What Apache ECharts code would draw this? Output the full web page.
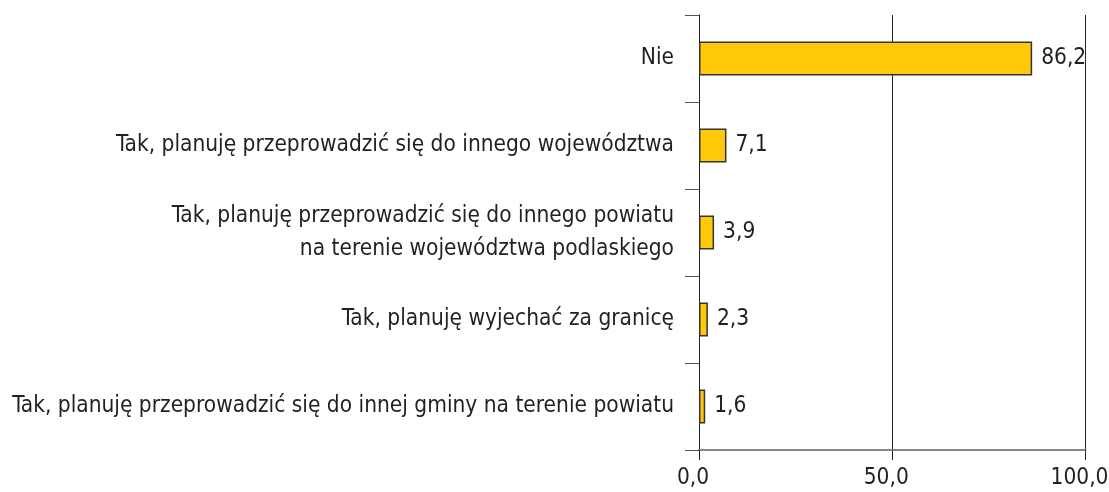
<!DOCTYPE html>
<html><head><meta charset="utf-8">
<script src="https://cdn.jsdelivr.net/npm/echarts@6/dist/echarts.min.js"></script>
<style>html,body{margin:0;padding:0;background:#fff}#c{width:1109px;height:492px}</style>
</head><body><div id="c"></div>
<script>
const categories = [
  "Nie",
  "Tak, planuję przeprowadzić się do innego województwa",
  "Tak, planuję przeprowadzić się do innego powiatu\nna terenie województwa podlaskiego",
  "Tak, planuję wyjechać za granicę",
  "Tak, planuję przeprowadzić się do innej gminy na terenie powiatu"
];
const values = [86.2, 7.1, 3.9, 2.3, 1.6];
const xTicks = [0, 50, 100];

const FONT = '"Liberation Sans Narrow", "DejaVu Sans Condensed", sans-serif';
const fmt = v => v.toFixed(1).replace('.', ',');
const chart = echarts.init(document.getElementById('c'), null, {renderer: 'canvas'});
chart.setOption({
  animation: false,
  grid: {left: 699, right: 23.5, top: 15, bottom: 42, containLabel: false, outerBoundsMode: 'none'},
  xAxis: {
    type: 'value', min: xTicks[0], max: xTicks[xTicks.length - 1], interval: 50,
    axisLine: {show: true, lineStyle: {color: '#888', width: 2}},
    axisTick: {show: true, length: 10, lineStyle: {color: '#222'}},
    axisLabel: {fontFamily: FONT, fontSize: 22.5, color: '#231f20', margin: 17, padding: [0, 12, 0, 0], formatter: v => fmt(v), hideOverlap: false},
    splitLine: {show: true, lineStyle: {color: '#222', width: 1}}
  },
  yAxis: {
    type: 'category', data: categories, inverse: true,
    axisLine: {show: true, lineStyle: {color: '#222', width: 1}},
    axisTick: {show: true, length: 14, lineStyle: {color: '#555'}},
    axisLabel: {fontFamily: FONT, fontSize: 22.5, color: '#231f20', margin: 25, align: 'right', lineHeight: 33},
    splitLine: {show: false}
  },
  series: [{
    type: 'bar', data: values, barWidth: 34,
    itemStyle: {color: '#FFC90A', borderColor: '#333', borderWidth: 1.5},
    label: {show: true, position: 'right', distance: 9, fontFamily: FONT, fontSize: 22.5, color: '#231f20', formatter: p => fmt(p.value)}
  }]
});
</script></body></html>
